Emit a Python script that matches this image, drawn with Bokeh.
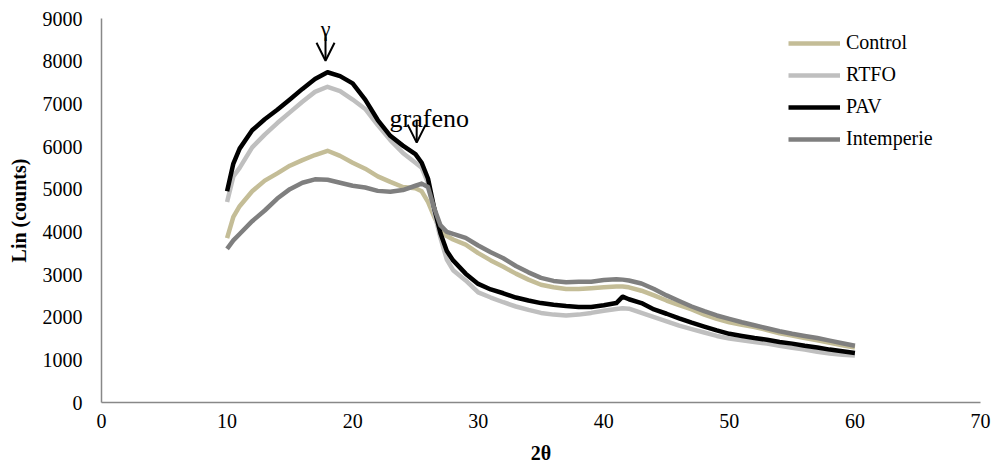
from bokeh.plotting import figure
from bokeh.models import (Range1d, FixedTicker, Legend, LegendItem, Arrow, OpenHead, Label)
from bokeh.embed import file_html
from bokeh.resources import INLINE

# ---- data ----
two_theta = [10, 10.5, 11, 12, 13, 14, 15, 16, 17, 18, 19, 20, 21, 22, 23, 24, 25, 25.5,
             26, 26.5, 27, 27.5, 28, 29, 30, 31, 32, 33, 34, 35, 36, 37, 38, 39, 40, 41,
             41.5, 42, 43, 44, 45, 46, 47, 48, 49, 50, 51, 52, 53, 54, 55, 56, 57, 58, 59, 60]

control = [3850, 4350, 4600, 4950, 5200, 5370, 5550, 5680, 5800, 5900, 5780, 5620, 5480, 5300,
           5170, 5050, 5020, 4950, 4700, 4350, 4050, 3900, 3820, 3700, 3500, 3330, 3180, 3020,
           2880, 2760, 2700, 2660, 2660, 2680, 2700, 2720, 2720, 2700, 2620, 2510, 2390, 2280,
           2180, 2060, 1960, 1880, 1820, 1770, 1700, 1620, 1570, 1510, 1460, 1400, 1340, 1290]

rtfo = [4700, 5300, 5500, 5980, 6280, 6550, 6800, 7050, 7280, 7400, 7300, 7100, 6880, 6500,
        6150, 5850, 5620, 5500, 5150, 4450, 3850, 3350, 3100, 2860, 2580, 2460, 2350, 2250,
        2170, 2100, 2060, 2040, 2060, 2100, 2150, 2190, 2210, 2200, 2100, 2000, 1900, 1800,
        1720, 1640, 1560, 1500, 1460, 1420, 1380, 1330, 1280, 1240, 1190, 1150, 1120, 1100]

pav = [4950, 5600, 5950, 6380, 6640, 6860, 7100, 7350, 7580, 7740, 7650, 7480, 7100, 6620,
       6250, 6020, 5820, 5620, 5250, 4550, 3960, 3550, 3330, 3020, 2780, 2650, 2560, 2460,
       2390, 2330, 2290, 2260, 2240, 2240, 2280, 2330, 2480, 2420, 2330, 2180, 2080, 1970,
       1870, 1780, 1690, 1610, 1560, 1510, 1470, 1420, 1380, 1330, 1290, 1240, 1200, 1160]

intemperie = [3600, 3800, 3950, 4250, 4500, 4780, 5000, 5150, 5230, 5220, 5150, 5080, 5040, 4960,
              4940, 4980, 5080, 5130, 5050, 4550, 4150, 4000, 3950, 3860, 3680, 3520, 3380, 3200,
              3050, 2920, 2850, 2820, 2830, 2830, 2870, 2890, 2880, 2860, 2790, 2660, 2510, 2380,
              2250, 2140, 2040, 1960, 1880, 1810, 1740, 1670, 1610, 1560, 1510, 1450, 1390, 1330]

series_names = ["Control", "RTFO", "PAV", "Intemperie"]
series_values = [control, rtfo, pav, intemperie]
series_colors = ["#C4BD97", "#BFBFBF", "#000000", "#7F7F7F"]

x_ticks = [0, 10, 20, 30, 40, 50, 60, 70]
y_ticks = [0, 1000, 2000, 3000, 4000, 5000, 6000, 7000, 8000, 9000]

FONT = "Liberation Serif"

p = figure(width=995, height=470, output_backend="svg", toolbar_location=None,
           x_range=Range1d(0, 70), y_range=Range1d(0, 9000),
           min_border_left=101, min_border_right=15, min_border_top=18, min_border_bottom=68)
p.outline_line_color = None
p.xgrid.grid_line_color = None
p.ygrid.grid_line_color = None
p.background_fill_color = "white"

renderers = []
for name, vals, col in zip(series_names, series_values, series_colors):
    r = p.line(two_theta, vals, line_color=col, line_width=4.5, line_join="round")
    renderers.append((name, r))

legend = Legend(items=[LegendItem(label=n, renderers=[r]) for n, r in renderers],
                location=(687, 252), orientation="vertical",
                glyph_width=52, glyph_height=20, label_height=20, label_standoff=6,
                spacing=9, padding=0, margin=0,
                border_line_color=None, background_fill_alpha=0,
                label_text_font=FONT, label_text_font_size="20px", label_text_color="black")
p.add_layout(legend)

for ax in (p.xaxis[0], p.yaxis[0]):
    ax.axis_line_color = "#888888"
    ax.axis_line_width = 1.5
    ax.major_tick_line_color = None
    ax.minor_tick_line_color = None
    ax.major_tick_out = 0
    ax.major_tick_in = 0
    ax.minor_tick_out = 0
    ax.minor_tick_in = 0
    ax.major_label_text_font = FONT
    ax.major_label_text_font_size = "20px"
    ax.major_label_text_color = "black"
    ax.axis_label_text_font = FONT
    ax.axis_label_text_font_size = "20px"
    ax.axis_label_text_font_style = "bold"
    ax.axis_label_text_color = "black"

p.xaxis.ticker = FixedTicker(ticks=x_ticks)
p.yaxis.ticker = FixedTicker(ticks=y_ticks)
p.xaxis.axis_label = "2θ"
p.yaxis.axis_label = "Lin (counts)"
p.xaxis.major_label_standoff = 11
p.xaxis.axis_label_standoff = 11
p.yaxis.major_label_standoff = 19
p.yaxis.axis_label_standoff = 10

# annotations
p.add_layout(Arrow(end=OpenHead(size=18, line_width=2, line_color="black"),
                   x_start=17.84, y_start=8650, x_end=17.84, y_end=8010,
                   line_width=2, line_color="black"))
p.add_layout(Label(x=17.84, y=8760, text="γ", text_align="center", text_baseline="alphabetic",
                   text_font=FONT, text_font_size="22px", text_color="black"))
p.add_layout(Arrow(end=OpenHead(size=18, line_width=2, line_color="black"),
                   x_start=25.1, y_start=6630, x_end=25.1, y_end=6090,
                   line_width=2, line_color="black"))
p.add_layout(Label(x=26.1, y=6650, text="grafeno", text_align="center", text_baseline="alphabetic",
                   text_font=FONT, text_font_size="26px", text_color="black"))

open("out.html", "w").write(file_html(p, INLINE))
